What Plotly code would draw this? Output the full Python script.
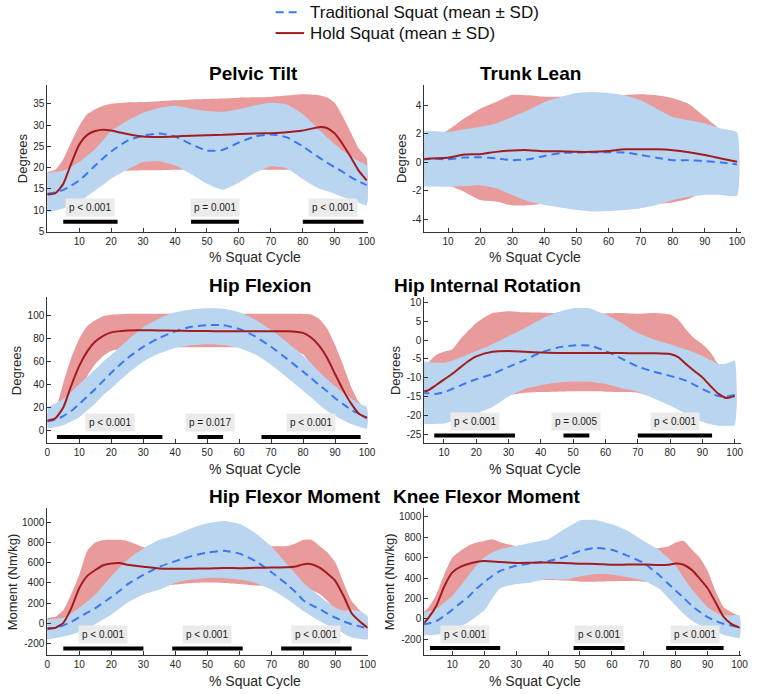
import plotly.graph_objects as go

# ------------------------------------------------------------------ data
# Pelvic Tilt
pt_x = [0, 2.5, 5, 7.5, 10, 12.5, 15, 17.5, 20, 25, 30, 35, 40, 45, 50, 55, 60, 65, 70, 75, 80, 85, 87.5, 90, 92.5, 95, 97.5, 100]
pt_hold_mean = [13.7, 14.0, 16.2, 21.0, 25.4, 27.7, 28.6, 28.9, 28.7, 27.9, 27.3, 27.2, 27.3, 27.5, 27.6, 27.7, 27.9, 28.0, 28.1, 28.3, 28.7, 29.5, 29.3, 28.0, 25.5, 22.5, 19.3, 17.0]
pt_hold_up = [19.0, 19.5, 22.0, 26.0, 29.8, 32.5, 33.7, 34.5, 35.0, 35.3, 35.4, 35.6, 35.8, 36.0, 36.1, 36.2, 36.4, 36.5, 36.6, 36.9, 37.2, 37.0, 36.5, 35.2, 32.0, 28.3, 24.5, 22.2]
pt_hold_lo = [10.0, 10.5, 11.5, 13.5, 15.5, 17.0, 18.0, 18.8, 19.2, 19.3, 19.4, 19.4, 19.5, 19.5, 19.5, 19.5, 19.5, 19.5, 19.5, 19.5, 19.4, 18.5, 17.5, 16.5, 15.0, 13.5, 12.5, 11.5]
pt_trad_mean = [13.9, 14.2, 14.8, 15.8, 17.0, 18.7, 20.5, 22.2, 23.8, 26.3, 27.5, 28.0, 27.3, 25.5, 24.0, 24.2, 25.9, 27.3, 27.8, 27.1, 25.0, 22.4, 21.2, 20.1, 19.0, 17.8, 16.8, 15.9]
pt_trad_up = [18.8, 19.0, 19.3, 20.2, 21.3, 22.8, 24.4, 26.5, 28.6, 31.0, 32.9, 34.0, 34.5, 33.8, 33.3, 33.1, 33.7, 34.6, 35.2, 34.8, 32.5, 29.0, 27.2, 25.5, 24.0, 22.8, 21.5, 20.5]
pt_trad_lo = [9.5, 9.9, 10.4, 11.1, 12.0, 13.3, 14.7, 16.0, 17.4, 19.5, 21.3, 21.5, 20.5, 18.5, 16.2, 14.8, 16.5, 18.8, 20.3, 19.8, 17.3, 15.1, 14.5, 13.9, 13.1, 12.4, 11.8, 11.2]
pt_bar_start = [5, 45, 80]
pt_bar_end = [22, 60, 99]
pt_p_text = ["p < 0.001", "p = 0.001", "p < 0.001"]

# Trunk Lean
tl_x = [2, 5, 10, 15, 20, 25, 30, 35, 40, 45, 50, 55, 60, 65, 70, 75, 80, 85, 90, 95, 100]
tl_hold_mean = [0.22, 0.28, 0.33, 0.55, 0.58, 0.74, 0.84, 0.86, 0.79, 0.78, 0.74, 0.74, 0.80, 0.92, 0.93, 0.92, 0.86, 0.72, 0.52, 0.28, 0.05]
tl_hold_up = [1.5, 1.8, 2.26, 3.07, 3.77, 4.23, 4.74, 4.7, 4.6, 4.6, 4.6, 4.65, 4.7, 4.72, 4.77, 4.7, 4.5, 4.1, 3.2, 2.26, 1.4]
tl_hold_lo = [-1.2, -1.3, -1.6, -2.05, -2.63, -2.74, -3.02, -3.0, -2.9, -2.85, -2.8, -2.8, -2.85, -2.9, -2.95, -2.9, -2.81, -2.55, -2.0, -1.6, -1.3]
tl_trad_mean = [0.23, 0.27, 0.22, 0.34, 0.36, 0.28, 0.16, 0.22, 0.45, 0.65, 0.70, 0.72, 0.72, 0.70, 0.52, 0.33, 0.16, 0.16, 0.09, 0.0, -0.14]
tl_trad_up = [2.19, 2.2, 2.14, 2.33, 2.49, 2.72, 3.19, 3.65, 4.23, 4.58, 4.86, 4.93, 4.86, 4.7, 4.35, 3.77, 3.19, 2.95, 2.72, 2.37, 2.09]
tl_trad_lo = [-1.7, -1.68, -1.7, -1.66, -1.6, -1.81, -2.28, -2.74, -2.98, -3.16, -3.33, -3.44, -3.4, -3.33, -3.21, -2.98, -2.63, -2.4, -2.28, -2.28, -2.33]
tl_bar_start = []
tl_bar_end = []
tl_p_text = []

# Hip Flexion
hf_x = [0, 2.5, 5, 7.5, 10, 12.5, 15, 17.5, 20, 25, 30, 35, 40, 45, 50, 55, 60, 65, 70, 75, 80, 82.5, 85, 87.5, 90, 92.5, 95, 97.5, 100]
hf_hold_mean = [8.5, 10.5, 20.0, 39.0, 56.0, 68.5, 77.0, 82.0, 85.0, 86.7, 86.8, 86.6, 86.4, 86.2, 86.1, 86.0, 86.0, 86.0, 86.0, 85.9, 84.5, 80.5, 73.5, 63.0, 49.0, 35.2, 23.5, 14.5, 10.9]
hf_hold_up = [15.5, 18.5, 41.0, 63.0, 79.5, 90.5, 95.5, 99.0, 100.3, 100.9, 101.0, 101.0, 101.0, 101.0, 101.0, 101.0, 101.0, 101.0, 101.0, 101.0, 100.9, 100.5, 96.8, 88.5, 74.0, 57.0, 38.0, 24.5, 17.6]
hf_hold_lo = [5.0, 6.0, 9.0, 20.5, 34.5, 47.0, 57.5, 64.5, 69.0, 71.5, 72.0, 72.0, 72.0, 72.0, 72.0, 72.0, 72.0, 72.0, 72.0, 71.5, 66.0, 57.0, 48.0, 37.0, 26.0, 17.0, 10.0, 6.0, 5.0]
hf_trad_mean = [8.0, 9.5, 12.5, 17.0, 23.0, 29.5, 36.0, 43.0, 50.0, 62.5, 72.5, 80.0, 85.8, 89.8, 91.3, 91.2, 88.0, 81.5, 72.5, 62.0, 51.0, 45.5, 39.5, 34.0, 28.0, 23.0, 18.0, 14.5, 11.0]
hf_trad_up = [20.4, 23.5, 27.4, 33.5, 40.0, 46.5, 53.0, 59.5, 65.5, 78.0, 89.5, 97.0, 102.3, 104.8, 105.8, 105.5, 102.5, 96.2, 87.2, 76.5, 65.0, 58.3, 51.0, 44.2, 38.5, 33.0, 28.0, 23.3, 20.4]
hf_trad_lo = [1.7, 3.0, 4.6, 7.8, 11.5, 17.5, 23.5, 30.5, 36.5, 49.0, 59.5, 66.8, 71.5, 73.8, 74.8, 74.0, 71.5, 66.0, 57.0, 46.0, 34.5, 28.5, 22.5, 17.0, 12.5, 9.0, 5.8, 3.2, 1.7]
hf_bar_start = [3, 47, 67]
hf_bar_end = [36, 55, 98]
hf_p_text = ["p < 0.001", "p = 0.017", "p < 0.001"]

# Hip Internal Rotation
hir_x = [3, 5, 7.5, 10, 12.5, 15, 17.5, 20, 25, 30, 35, 40, 45, 50, 55, 60, 65, 70, 75, 80, 82.5, 85, 87.5, 90, 92.5, 95, 97.5, 100]
hir_hold_mean = [-13.7, -13.4, -12.0, -10.5, -9.0, -7.3, -5.6, -4.3, -3.1, -2.9, -3.1, -3.3, -3.4, -3.4, -3.4, -3.4, -3.4, -3.5, -3.5, -3.7, -4.5, -6.4, -8.2, -9.9, -12.2, -14.3, -15.4, -14.9]
hir_hold_up = [-6.5, -6.0, -4.0, -3.1, -2.5, 0.2, 2.5, 4.6, 7.2, 7.7, 7.4, 7.3, 7.2, 7.1, 7.1, 7.1, 7.2, 7.0, 7.2, 6.8, 5.5, 2.8, 0.5, -1.1, -3.2, -6.4, -6.8, -8.0]
hir_hold_lo = [-18.0, -17.8, -17.0, -16.5, -16.0, -15.5, -15.0, -14.5, -14.5, -14.6, -14.0, -13.8, -13.7, -13.6, -13.6, -13.7, -13.8, -14.0, -15.2, -16.0, -16.7, -17.5, -18.5, -19.5, -20.5, -21.0, -21.0, -21.0]
hir_trad_mean = [-14.0, -14.1, -14.3, -13.9, -13.0, -12.1, -11.2, -10.4, -9.0, -7.1, -5.3, -3.3, -2.0, -1.4, -1.4, -2.9, -4.9, -7.0, -8.4, -9.5, -10.1, -10.8, -11.9, -13.0, -14.0, -14.9, -15.0, -14.6]
hir_trad_up = [-5.5, -5.8, -6.0, -6.0, -5.4, -4.6, -3.8, -2.9, -1.1, 1.1, 3.2, 5.6, 7.4, 8.5, 8.5, 6.8, 4.6, 1.9, 0.2, -1.1, -1.8, -2.5, -3.3, -4.2, -5.3, -6.4, -6.2, -5.5]
hir_trad_lo = [-22.2, -22.3, -22.3, -22.2, -21.6, -20.9, -20.3, -19.6, -17.8, -15.0, -13.0, -12.0, -11.3, -11.0, -11.1, -11.7, -12.8, -13.7, -15.5, -17.4, -18.5, -19.6, -20.7, -21.7, -22.4, -22.8, -22.8, -22.6]
hir_bar_start = [7, 47, 70]
hir_bar_end = [32, 55, 93]
hir_p_text = ["p < 0.001", "p = 0.005", "p < 0.001"]

# Hip Flexor Moment
hfm_x = [0, 2.5, 5, 7.5, 10, 12.5, 15, 17.5, 20, 22.5, 25, 30, 35, 40, 45, 50, 55, 60, 65, 70, 75, 77.5, 80, 82.5, 85, 87.5, 90, 92.5, 95, 97.5, 100]
hfm_hold_mean = [-49, -45, 5, 150, 350, 470, 528, 575, 592, 596, 580, 560, 542, 540, 541, 542, 548, 546, 550, 552, 555, 562, 585, 585, 550, 490, 416, 270, 100, 20, -45]
hfm_hold_up = [56, 65, 130, 290, 480, 720, 800, 825, 828, 826, 815, 755, 740, 730, 725, 725, 725, 730, 745, 761, 765, 790, 826, 826, 765, 700, 597, 400, 220, 130, 60]
hfm_hold_lo = [-160, -140, -115, -60, 20, 140, 250, 320, 350, 360, 365, 368, 372, 385, 400, 405, 400, 390, 375, 370, 370, 365, 350, 330, 290, 220, 130, 0, -90, -130, -150]
hfm_trad_mean = [-60, -45, -20, 15, 60, 105, 150, 205, 260, 320, 385, 480, 560, 615, 665, 700, 718, 690, 615, 505, 380, 310, 225, 180, 140, 95, 55, 20, -10, -30, -50]
hfm_trad_up = [39, 45, 56, 100, 154, 215, 285, 375, 466, 550, 629, 744, 826, 875, 941, 990, 1013, 984, 892, 761, 580, 490, 400, 335, 269, 210, 154, 125, 135, 120, 72]
hfm_trad_lo = [-158, -145, -131, -110, -85, -50, -10, 40, 88, 145, 203, 285, 334, 400, 433, 449, 449, 433, 400, 334, 236, 180, 121, 70, 23, -20, -59, -100, -141, -155, -158]
hfm_bar_start = [5, 39, 73]
hfm_bar_end = [30, 61, 95]
hfm_p_text = ["p < 0.001", "p < 0.001", "p < 0.001"]

# Knee Flexor Moment
kfm_x = [1, 2.5, 5, 7.5, 10, 12.5, 15, 17.5, 20, 22.5, 25, 30, 35, 40, 45, 50, 55, 60, 65, 70, 75, 77.5, 80, 82.5, 85, 87.5, 90, 92.5, 95, 97.5, 100]
kfm_hold_mean = [-45, 10, 130, 320, 455, 510, 538, 558, 566, 563, 556, 548, 550, 553, 548, 540, 538, 530, 532, 532, 528, 530, 543, 530, 480, 395, 300, 160, 20, -50, -85]
kfm_hold_up = [70, 110, 240, 440, 601, 665, 715, 747, 763, 779, 750, 712, 700, 700, 700, 700, 700, 690, 680, 680, 695, 705, 747, 763, 682, 600, 471, 270, 115, 66, 20]
kfm_hold_lo = [-140, -120, -60, 60, 200, 300, 350, 370, 378, 380, 380, 380, 380, 380, 375, 365, 365, 368, 370, 365, 360, 350, 320, 270, 200, 120, 40, -40, -90, -120, -150]
kfm_trad_mean = [-54, -45, -20, 30, 90, 155, 215, 295, 360, 420, 470, 520, 545, 565, 605, 665, 695, 676, 617, 546, 423, 350, 277, 205, 131, 70, 17, -20, -47, -65, -80]
kfm_trad_up = [60, 75, 98, 160, 228, 320, 423, 520, 601, 650, 682, 715, 747, 779, 877, 964, 968, 925, 861, 763, 670, 600, 520, 400, 293, 200, 115, 65, 34, 34, 34]
kfm_trad_lo = [-161, -158, -155, -140, -112, -75, -31, 25, 82, 200, 300, 342, 360, 390, 385, 415, 440, 435, 407, 374, 293, 210, 131, 50, -15, -60, -96, -125, -155, -175, -187]
kfm_bar_start = [3, 48, 77]
kfm_bar_end = [25, 64, 95]
kfm_p_text = ["p < 0.001", "p < 0.001", "p < 0.001"]

# tick labels
pct_ticks_10 = [10, 20, 30, 40, 50, 60, 70, 80, 90, 100]
pct_ticks_0 = [0, 10, 20, 30, 40, 50, 60, 70, 80, 90, 100]
pt_yticks = [5, 10, 15, 20, 25, 30, 35]
tl_yticks = [-4, -2, 0, 2, 4]
hf_yticks = [0, 20, 40, 60, 80, 100]
hir_yticks = [-25, -20, -15, -10, -5, 0, 5, 10]
mom_yticks = [-200, 0, 200, 400, 600, 800, 1000]

series_names = ["Traditional Squat (mean ± SD)", "Hold Squat (mean ± SD)"]

# ------------------------------------------------------------------ styling
RED_FILL = '#E99A9A'
BLUE_FILL = '#BAD5EF'
RED_LINE = '#A01C20'
BLUE_LINE = '#3A78F2'
AX_COL = '#333333'
TXT_COL = '#262626'
FONT = 'Liberation Sans, Arial, Helvetica, sans-serif'
W, H = 760, 694
DASH = '8px,5px'

LEFT = (45, 370.5)
RIGHT = (428, 750)
ROWS = [(86, 233.3), (299.5, 446.7), (512, 659.5)]

panels = [
    dict(title='Pelvic Tilt', ytitle='Degrees', col=LEFT, row=0, ytx=20,
         x=pt_x, hm=pt_hold_mean, hu=pt_hold_up, hl=pt_hold_lo,
         tm=pt_trad_mean, tu=pt_trad_up, tl=pt_trad_lo,
         bs=pt_bar_start, be=pt_bar_end, pt=pt_p_text, bar_y=7.3,
         xr=[0, 100.3], yr=[5, 39.3], xt=pct_ticks_10, yt=pt_yticks),
    dict(title='Trunk Lean', ytitle='Degrees', col=RIGHT, row=0, ytx=405,
         x=tl_x, hm=tl_hold_mean, hu=tl_hold_up, hl=tl_hold_lo,
         tm=tl_trad_mean, tu=tl_trad_up, tl=tl_trad_lo,
         bs=tl_bar_start, be=tl_bar_end, pt=tl_p_text, bar_y=0,
         xr=[2.6, 101.3], yr=[-4.85, 5.4], xt=pct_ticks_10, yt=tl_yticks),
    dict(title='Hip Flexion', ytitle='Degrees', col=LEFT, row=1, ytx=14,
         x=hf_x, hm=hf_hold_mean, hu=hf_hold_up, hl=hf_hold_lo,
         tm=hf_trad_mean, tu=hf_trad_up, tl=hf_trad_lo,
         bs=hf_bar_start, be=hf_bar_end, pt=hf_p_text, bar_y=-5.5,
         xr=[0, 100.2], yr=[-11.2, 115.3], xt=pct_ticks_0, yt=hf_yticks),
    dict(title='Hip Internal Rotation', ytitle='Degrees', col=RIGHT, row=1, ytx=399,
         x=hir_x, hm=hir_hold_mean, hu=hir_hold_up, hl=hir_hold_lo,
         tm=hir_trad_mean, tu=hir_trad_up, tl=hir_trad_lo,
         bs=hir_bar_start, be=hir_bar_end, pt=hir_p_text, bar_y=-25.4,
         xr=[3.9, 102], yr=[-27.5, 11.4], xt=pct_ticks_10, yt=hir_yticks),
    dict(title='Hip Flexor Moment', ytitle='Moment (Nm/kg)', col=LEFT, row=2, ytx=10,
         x=hfm_x, hm=hfm_hold_mean, hu=hfm_hold_up, hl=hfm_hold_lo,
         tm=hfm_trad_mean, tu=hfm_trad_up, tl=hfm_trad_lo,
         bs=hfm_bar_start, be=hfm_bar_end, pt=hfm_p_text, bar_y=-249,
         xr=[0, 100], yr=[-311, 1138], xt=pct_ticks_0, yt=mom_yticks),
    dict(title='Knee Flexor Moment', ytitle='Moment (Nm/kg)', col=RIGHT, row=2, ytx=393,
         x=kfm_x, hm=kfm_hold_mean, hu=kfm_hold_up, hl=kfm_hold_lo,
         tm=kfm_trad_mean, tu=kfm_trad_up, tl=kfm_trad_lo,
         bs=kfm_bar_start, be=kfm_bar_end, pt=kfm_p_text, bar_y=-284,
         xr=[1.2, 100.5], yr=[-350, 1082], xt=pct_ticks_10, yt=mom_yticks),
]

fig = go.Figure()
annotations = []
shapes = []
layout = dict(
    width=W, height=H, margin=dict(l=0, r=0, t=0, b=0),
    paper_bgcolor='white', plot_bgcolor='white',
    font=dict(family=FONT, color=TXT_COL, size=10),
    showlegend=False,
)

for i, p in enumerate(panels):
    n = i + 1
    xa = 'x' if n == 1 else f'x{n}'
    ya = 'y' if n == 1 else f'y{n}'
    x0, x1 = p['col']
    top, bot = ROWS[p['row']]

    xs = p['x']
    # hold SD band
    fig.add_trace(go.Scatter(
        x=xs + xs[::-1], y=p['hu'] + p['hl'][::-1], fill='toself',
        fillcolor=RED_FILL, line=dict(width=0, shape='spline', smoothing=0.5),
        mode='lines', hoverinfo='skip', name=series_names[1] + ' SD', xaxis=xa, yaxis=ya))
    # traditional SD band
    fig.add_trace(go.Scatter(
        x=xs + xs[::-1], y=p['tu'] + p['tl'][::-1], fill='toself',
        fillcolor=BLUE_FILL, line=dict(width=0, shape='spline', smoothing=0.5),
        mode='lines', hoverinfo='skip', name=series_names[0] + ' SD', xaxis=xa, yaxis=ya))
    # means
    fig.add_trace(go.Scatter(
        x=xs, y=p['tm'], mode='lines', name=series_names[0],
        line=dict(color=BLUE_LINE, width=2, dash=DASH, shape='spline', smoothing=0.6),
        xaxis=xa, yaxis=ya))
    fig.add_trace(go.Scatter(
        x=xs, y=p['hm'], mode='lines', name=series_names[1],
        line=dict(color=RED_LINE, width=2, shape='spline', smoothing=0.6),
        xaxis=xa, yaxis=ya))
    # significance bars + labels
    for s, e, t in zip(p['bs'], p['be'], p['pt']):
        fig.add_trace(go.Scatter(
            x=[s, e], y=[p['bar_y'], p['bar_y']], mode='lines',
            line=dict(color='black', width=4), hoverinfo='skip',
            name=t, xaxis=xa, yaxis=ya))
        annotations.append(dict(
            x=(s + e) / 2, y=p['bar_y'], xref=xa, yref=ya, yshift=14,
            text=t, showarrow=False, bgcolor='#EBEBEB', borderpad=3,
            font=dict(size=10, color='#1a1a1a')))

    xkey = 'xaxis' if n == 1 else f'xaxis{n}'
    ykey = 'yaxis' if n == 1 else f'yaxis{n}'
    layout[xkey] = dict(
        domain=[x0 / W, x1 / W], anchor=ya, range=p['xr'],
        tickvals=p['xt'], ticktext=[str(v) for v in p['xt']],
        showline=True, linecolor=AX_COL, linewidth=1, mirror=False,
        ticks='inside', ticklen=4, tickcolor=AX_COL, showgrid=False, zeroline=False,
        tickfont=dict(size=10, color=TXT_COL))
    layout[ykey] = dict(
        domain=[1 - bot / H, 1 - top / H], anchor=xa, range=p['yr'],
        tickvals=p['yt'], ticktext=[str(v) for v in p['yt']],
        showline=True, linecolor=AX_COL, linewidth=1, mirror=False,
        ticks='inside', ticklen=4, tickcolor=AX_COL, showgrid=False, zeroline=False,
        tickfont=dict(size=10, color=TXT_COL))

    cx = (x0 + x1) / 2
    # subplot title
    annotations.append(dict(
        x=cx / W, y=1 - (top - 12) / H, xref='paper', yref='paper',
        text=f"<b>{p['title']}</b>", showarrow=False, yanchor='middle',
        font=dict(size=19, color='black')))
    # x title
    annotations.append(dict(
        x=cx / W, y=1 - (bot + 26) / H, xref='paper', yref='paper',
        text='% Squat Cycle', showarrow=False, yanchor='middle',
        font=dict(size=14, color=TXT_COL)))
    # y title
    annotations.append(dict(
        x=p['ytx'] / W, y=1 - ((top + bot) / 2) / H, xref='paper', yref='paper',
        text=p['ytitle'], showarrow=False, textangle=-90, xanchor='center', yanchor='middle',
        font=dict(size=13, color=TXT_COL)))

# legend (top centre): line samples + labels
legend_rows = [(12.3, BLUE_LINE, DASH, 300), (33.3, RED_LINE, 'solid', 306)]
for (ly, col, dash, xend), name in zip(legend_rows, series_names):
    shapes.append(dict(type='line', xref='paper', yref='paper',
                       x0=277 / W, x1=xend / W, y0=1 - ly / H, y1=1 - ly / H,
                       line=dict(color=col, width=2, dash=dash)))
    annotations.append(dict(x=310 / W, y=1 - ly / H, xref='paper', yref='paper',
                            text=name, showarrow=False, xanchor='left', yanchor='middle',
                            font=dict(size=17, color='#111111')))

layout['annotations'] = annotations
layout['shapes'] = shapes
fig.update_layout(**layout)
fig.write_html("out.html")
